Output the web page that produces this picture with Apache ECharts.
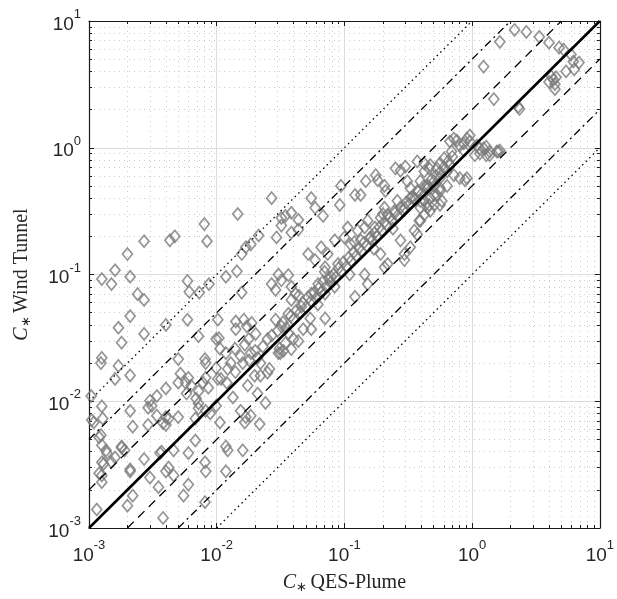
<!DOCTYPE html>
<html>
<head>
<meta charset="utf-8">
<script src="https://cdn.jsdelivr.net/npm/echarts@6/dist/echarts.min.js"></script>
<style>html,body{margin:0;padding:0;background:#fff}#c{width:617px;height:599px}</style>
</head>
<body>
<div id="c"></div>
<script>
// C* QES-Plume (x) values
const qesPlume = [
0.0018,0.00126,0.00124,0.0017,0.0016,0.0021,0.00104,0.00126,0.00105,0.00109,
0.00128,0.00124,0.0012,0.0022,0.0021,0.003,0.0031,0.0029,0.0034,0.004,
0.004,0.0038,0.004,0.0034,0.0029,0.005,0.0052,0.0057,0.005,0.006,
0.0063,0.0058,0.0072,0.0069,0.0072,0.0081,0.0082,0.0082,0.0078,0.0086,
0.0106,0.0102,0.0108,0.0099,0.0118,0.0129,0.0122,0.0139,0.0154,0.0166,
0.0185,0.0209,0.022,0.0259,0.025,0.031,0.0315,0.0198,0.022,0.0175,
0.0134,0.0209,0.0241,0.0082,0.0089,0.0072,0.0068,0.005,0.0042,0.0106,
0.0154,0.0169,0.0166,0.0185,0.0217,0.0099,0.0068,0.0037,0.0036,0.0046,
0.006,0.0081,0.0082,0.0118,0.0122,0.016,0.0118,0.00126,0.00136,0.00138,
0.0018,0.0018,0.0019,0.00126,0.0013,0.0016,0.0027,0.0021,0.0021,0.0012,
0.00126,0.00126,0.003,0.0042,0.004,0.0046,0.006,0.0035,0.0022,0.002,
0.00115,0.0055,0.0081,0.0038,0.0015,0.00126,0.0015,0.0016,0.002,0.0027,
0.0021,0.0024,0.0027,0.0021,0.0017,0.0027,0.0043,0.0047,0.008,0.0084,
0.0146,0.0059,0.0061,0.0073,0.0087,0.0118,0.0144,0.0157,0.0157,0.0169,
0.0185,0.0213,0.0059,0.004,0.0102,0.0072,0.0099,0.0104,0.0141,0.0141,
0.0163,0.0172,0.0188,0.0202,0.0178,0.0269,0.055,0.0321,0.0345,0.0384,
0.0436,0.0321,0.0294,0.0384,0.0436,0.059,0.068,0.092,0.094,0.121,
0.134,0.147,0.182,0.176,0.206,0.21,0.251,0.275,0.3,0.372,
0.422,0.46,0.311,0.328,0.353,0.56,0.58,0.0269,0.0289,0.0304,
0.0321,0.0364,0.0384,0.0413,0.0384,0.046,0.0364,0.0289,0.0321,0.052,
0.059,0.0657,0.074,0.084,0.0706,0.0786,0.0623,0.055,0.0706,0.084,
0.089,0.1,0.112,0.127,0.106,0.144,0.134,0.152,0.173,0.161,
0.192,0.218,0.206,0.247,0.26,0.295,0.328,0.372,0.393,0.446,
0.505,0.56,0.505,0.46,0.144,0.152,0.121,0.192,0.206,0.218,
0.275,0.295,0.328,0.295,0.353,0.393,0.47,0.56,0.0364,0.0345,
0.0384,0.04,0.0436,0.0476,0.055,0.054,0.0706,0.0304,0.0333,0.67,
0.76,0.86,0.96,1.09,1.23,1.37,1.56,1.65,1.05,1.15,
1.29,0.604,0.56,0.53,0.637,0.72,0.8,0.91,0.67,0.47,
0.422,0.393,0.446,0.505,0.56,0.637,0.53,0.47,0.422,0.393,
0.446,0.505,0.422,0.372,0.386,0.88,2.15,2.66,1.65,3.36,
4.0,4.8,5.2,5.95,6.2,6.87,5.44,6.3,1.23,4.17,
4.33,4.55,4.0,4.45,4.45,1.48,2.35,2.3,0.72,0.8,
0.91,0.96,0.69,0.86,1.15,1.29,1.6,1.37,
0.030,0.033,0.035,0.038,0.040,0.042,0.045,0.047,0.050,0.052,
0.055,0.058,0.060,0.063,0.066,0.068,0.072,0.075,0.078,0.082,
0.086,0.090,0.095,0.098,0.104,0.108,0.113,0.118,0.124,0.130,
0.136,0.142,0.150,0.158,0.165,0.172,0.180,0.188,0.196,0.205,
0.215,0.225,0.236,0.248,0.26,0.275,0.29,0.305,0.32,0.34,
0.36,0.38,0.40,0.42,0.45,0.48,0.52,0.56,0.6,0.65,
0.7,0.062,0.11,0.17,0.24,0.044,0.07,0.12,0.2,0.012,
0.014,0.016,0.018,0.02,0.023,0.025,0.027
];
// C* Wind Tunnel (y) values
const windTunnel = [
0.029,0.022,0.020,0.019,0.015,0.016,0.011,0.0091,0.0071,0.0068,
0.0073,0.0054,0.0052,0.0063,0.0084,0.0101,0.0092,0.0089,0.011,0.0126,
0.0075,0.0067,0.0065,0.0077,0.0065,0.0215,0.0165,0.014,0.014,0.0153,
0.0133,0.0115,0.012,0.0105,0.0096,0.0215,0.020,0.0153,0.014,0.0128,
0.026,0.015,0.015,0.0183,0.024,0.020,0.018,0.026,0.0227,0.028,
0.024,0.022,0.020,0.018,0.0168,0.026,0.024,0.0159,0.0159,0.0133,
0.0107,0.0115,0.0097,0.0084,0.008,0.0088,0.0073,0.0075,0.0073,0.0068,
0.0084,0.0075,0.0068,0.0077,0.0066,0.0092,0.0049,0.004,0.0039,0.0041,
0.0039,0.0033,0.0028,0.0044,0.0041,0.0041,0.0028,0.0045,0.0041,0.0039,
0.0044,0.0043,0.0041,0.0033,0.0032,0.0036,0.0035,0.0029,0.0028,0.0027,
0.0026,0.0023,0.0025,0.003,0.0028,0.0026,0.0022,0.0021,0.0018,0.0015,
0.0014,0.0018,0.0016,0.0012,0.0033,0.092,0.084,0.108,0.145,0.183,
0.096,0.07,0.063,0.047,0.038,0.034,0.186,0.2,0.25,0.183,
0.3,0.089,0.073,0.072,0.084,0.096,0.106,0.072,0.145,0.164,
0.173,0.203,0.044,0.04,0.044,0.0326,0.031,0.0315,0.0426,0.037,
0.044,0.039,0.0415,0.034,0.031,0.4,0.4,0.28,0.29,0.307,
0.27,0.243,0.196,0.214,0.226,0.336,0.29,0.354,0.5,0.424,
0.424,0.545,0.555,0.608,0.5,0.456,0.688,0.66,0.71,0.78,
0.75,0.688,0.545,0.48,0.4,0.456,0.38,0.084,0.0756,0.1,
0.09,0.099,0.08,0.0705,0.063,0.0557,0.049,0.044,0.039,0.145,
0.13,0.164,0.145,0.186,0.114,0.0956,0.084,0.0705,0.0705,0.08,
0.121,0.196,0.173,0.222,0.235,0.235,0.186,0.266,0.235,0.196,
0.28,0.296,0.336,0.318,0.381,0.336,0.4,0.456,0.381,0.508,
0.545,0.575,0.424,0.354,0.1,0.084,0.0667,0.145,0.114,0.121,
0.186,0.145,0.164,0.13,0.222,0.266,0.318,0.354,0.0344,0.0287,
0.0258,0.031,0.0298,0.037,0.037,0.045,0.045,0.024,0.025,1.12,
1.14,1.08,1.12,1.04,0.99,0.935,0.935,0.95,0.872,0.9,
0.872,0.824,0.754,0.688,0.65,0.608,0.575,0.575,0.73,0.73,
0.65,0.545,0.48,0.5,0.48,0.5,0.424,0.4,0.381,0.336,
0.336,0.354,0.296,0.207,0.266,0.555,8.5,8.2,6.85,7.5,
6.75,6.16,5.95,5.43,4.79,4.7,4.0,4.15,4.37,3.66,
3.45,3.6,3.3,3.17,2.9,2.42,2.02,2.1,1.18,1.04,
1.18,1.25,0.935,0.95,0.99,1.02,0.935,0.872,
0.036,0.042,0.038,0.047,0.044,0.052,0.050,0.060,0.055,0.066,
0.062,0.072,0.065,0.078,0.073,0.088,0.080,0.094,0.086,0.100,
0.095,0.112,0.105,0.125,0.115,0.136,0.128,0.150,0.140,0.162,
0.152,0.178,0.168,0.195,0.185,0.212,0.200,0.236,0.222,0.258,
0.245,0.282,0.268,0.305,0.29,0.34,0.32,0.37,0.355,0.41,
0.39,0.45,0.43,0.5,0.48,0.56,0.6,0.64,0.7,0.78,
0.85,0.058,0.1,0.16,0.23,0.068,0.105,0.18,0.3,0.014,
0.017,0.02,0.021,0.025,0.027,0.031,0.033
];
// Reference lines (endpoints in data units)
const lineOneToOne = [[0.001, 0.001], [10, 10]];
const lineFactor2Up = [[0.001, 0.002], [5, 10]];
const lineFactor2Down = [[0.002, 0.001], [10, 5]];
const lineFactor5Up = [[0.001, 0.005], [2, 10]];
const lineFactor5Down = [[0.005, 0.001], [10, 2]];
const lineFactor10Up = [[0.001, 0.01], [1, 10]];
const lineFactor10Down = [[0.01, 0.001], [10, 1]];
const axisMin = 0.001, axisMax = 10;

const scatterData = qesPlume.map((x, i) => [x, windTunnel[i]]);

const chart = echarts.init(document.getElementById('c'), null, {renderer: 'canvas'});

function labelFmt(v) {
  const e = Math.round(Math.log10(v));
  return '{b|10}{s|' + e + '}';
}
const richLabel = {
  b: {fontFamily: 'Liberation Sans', fontSize: 19, color: '#262626', verticalAlign: 'bottom', lineHeight: 26},
  s: {fontFamily: 'Liberation Sans', fontSize: 13, color: '#262626', verticalAlign: 'top', lineHeight: 26}
};
const titleRich = {
  i: {fontFamily: 'Liberation Serif', fontStyle: 'italic', fontSize: 20, color: '#262626'},
  sub: {fontFamily: 'Liberation Serif', fontSize: 13, color: '#262626', verticalAlign: 'bottom', lineHeight: 22, padding: [8, 0, 0, 0]},
  t: {fontFamily: 'Liberation Serif', fontSize: 20, color: '#262626'}
};

function makeAxis(opts) {
  return Object.assign({
    type: 'log', logBase: 10, min: axisMin, max: axisMax,
    axisLine: {show: true, onZero: false, lineStyle: {color: '#1a1a1a', width: 1.2}},
    axisTick: {show: true, inside: true, length: 5, lineStyle: {color: '#1a1a1a', width: 1}},
    minorTick: {show: true, splitNumber: 9, length: 3, lineStyle: {color: '#1a1a1a', width: 1}},
    splitLine: {show: false},
    minorSplitLine: {show: false},
    axisLabel: {show: false}
  }, opts);
}

const option = {
  backgroundColor: '#ffffff',
  animation: false,
  grid: {left: 89, right: 13, top: 21, bottom: 65, containLabel: false},
  xAxis: [
    makeAxis({
      position: 'bottom',
      splitLine: {show: true, lineStyle: {color: '#dcdcdc', width: 1}},
      minorSplitLine: {show: true, lineStyle: {color: '#cccccc', width: 1, type: [1, 4]}},
      axisLabel: {show: true, formatter: labelFmt, rich: richLabel, margin: 11, showMinLabel: true, showMaxLabel: true},
      name: '{i|C}{sub|∗} {t|QES-Plume}',
      nameLocation: 'middle', nameGap: 44,
      nameTextStyle: {rich: titleRich}
    }),
    makeAxis({position: 'top'})
  ],
  yAxis: [
    makeAxis({
      position: 'left',
      splitLine: {show: true, lineStyle: {color: '#dcdcdc', width: 1}},
      minorSplitLine: {show: true, lineStyle: {color: '#cccccc', width: 1, type: [1, 4]}},
      axisLabel: {show: true, formatter: labelFmt, rich: richLabel, margin: 8, showMinLabel: true, showMaxLabel: true},
      name: '{i|C}{sub|∗} {t|Wind Tunnel}',
      nameLocation: 'middle', nameGap: 56, nameRotate: 90,
      nameTextStyle: {rich: titleRich}
    }),
    makeAxis({position: 'right'})
  ],
  series: [
    {
      type: 'scatter', xAxisIndex: 0, yAxisIndex: 0, z: 2,
      symbol: 'diamond', symbolSize: [10, 12],
      itemStyle: {color: 'rgba(255,255,255,0)', borderColor: '#7a7a7a', borderWidth: 1.7},
      data: scatterData, silent: true
    },
    {type: 'line', data: lineOneToOne, symbol: 'none', z: 5, silent: true, lineStyle: {color: '#000', width: 2.6}},
    {type: 'line', data: lineFactor2Up, symbol: 'none', z: 5, silent: true, lineStyle: {color: '#000', width: 1.3, type: [9, 6]}},
    {type: 'line', data: lineFactor2Down, symbol: 'none', z: 5, silent: true, lineStyle: {color: '#000', width: 1.3, type: [9, 6]}},
    {type: 'line', data: lineFactor5Up, symbol: 'none', z: 5, silent: true, lineStyle: {color: '#000', width: 1.3, type: [8, 4, 2, 4]}},
    {type: 'line', data: lineFactor5Down, symbol: 'none', z: 5, silent: true, lineStyle: {color: '#000', width: 1.3, type: [8, 4, 2, 4]}},
    {type: 'line', data: lineFactor10Up, symbol: 'none', z: 5, silent: true, lineStyle: {color: '#000', width: 1.3, type: [1.5, 3.5]}},
    {type: 'line', data: lineFactor10Down, symbol: 'none', z: 5, silent: true, lineStyle: {color: '#000', width: 1.3, type: [1.5, 3.5]}}
  ]
};
chart.setOption(option);
</script>
</body>
</html>
